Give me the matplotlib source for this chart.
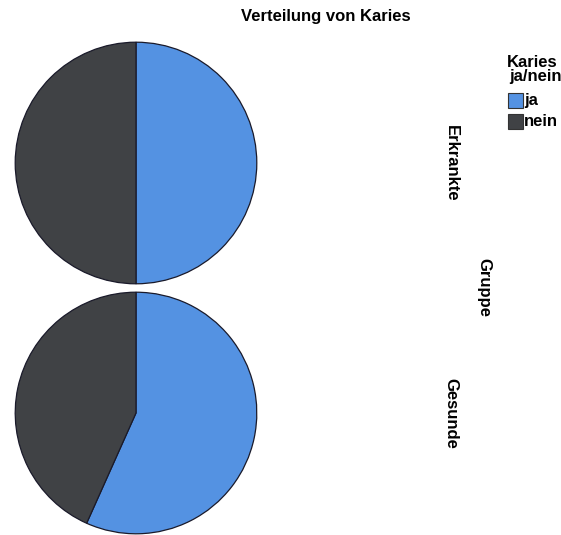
import matplotlib
matplotlib.use("Agg")
import matplotlib.pyplot as plt
from matplotlib.patches import Rectangle

plt.rcParams['font.family'] = ['Liberation Sans', 'DejaVu Sans']

groups = ["Erkrankte", "Gesunde"]
categories = ["ja", "nein"]
shares = {
    "Erkrankte": [50.0, 50.0],
    "Gesunde": [56.7, 43.3],
}
colors = ["#5492E2", "#404245"]

W, H = 561, 535
fig = plt.figure(figsize=(W / 100, H / 100), dpi=100)


def fx(px):
    return px / W


def fy(py):
    return 1 - py / H


# pie centres (pixels) and radius
centres = [(136, 163), (136, 413)]
radius = 122

for g, (cx, cy) in zip(groups, centres):
    ax = fig.add_axes([fx(cx - radius), fy(cy + radius),
                       2 * radius / W, 2 * radius / H])
    ax.pie(shares[g], colors=colors, startangle=90, counterclock=False,
           radius=1.0, wedgeprops=dict(edgecolor="#1a1a2a", linewidth=0.9))
    ax.set_xlim(-1.01, 1.01)
    ax.set_ylim(-1.01, 1.01)
    ax.set_aspect("equal")
    ax.axis("off")
    fig.text(fx(451), fy(cy), g, rotation=-90, ha="center", va="center",
             fontsize=12, fontweight="bold")

fig.text(fx(484), fy(288), "Gruppe", rotation=-90, ha="center",
         va="center", fontsize=12, fontweight="bold")

fig.text(fx(326), fy(17), "Verteilung von Karies", ha="center",
         va="center", fontsize=12, fontweight="bold")

# legend
fig.text(fx(507), fy(67), "Karies", ha="left", va="baseline",
         fontsize=12, fontweight="bold")
fig.text(fx(509), fy(81), "ja/nein", ha="left", va="baseline",
         fontsize=12, fontweight="bold")
for i, (cat, col) in enumerate(zip(categories, colors)):
    top = 93 + i * 21
    fig.patches.append(Rectangle((fx(508), fy(top + 15)), 15 / W, 15 / H,
                                 transform=fig.transFigure, facecolor=col,
                                 edgecolor="#333333", linewidth=0.8))
    fig.text(fx(524), fy(top + 7.5), cat, ha="left", va="center",
             fontsize=12, fontweight="bold")

fig.savefig("out.png", dpi=100, facecolor="white")
